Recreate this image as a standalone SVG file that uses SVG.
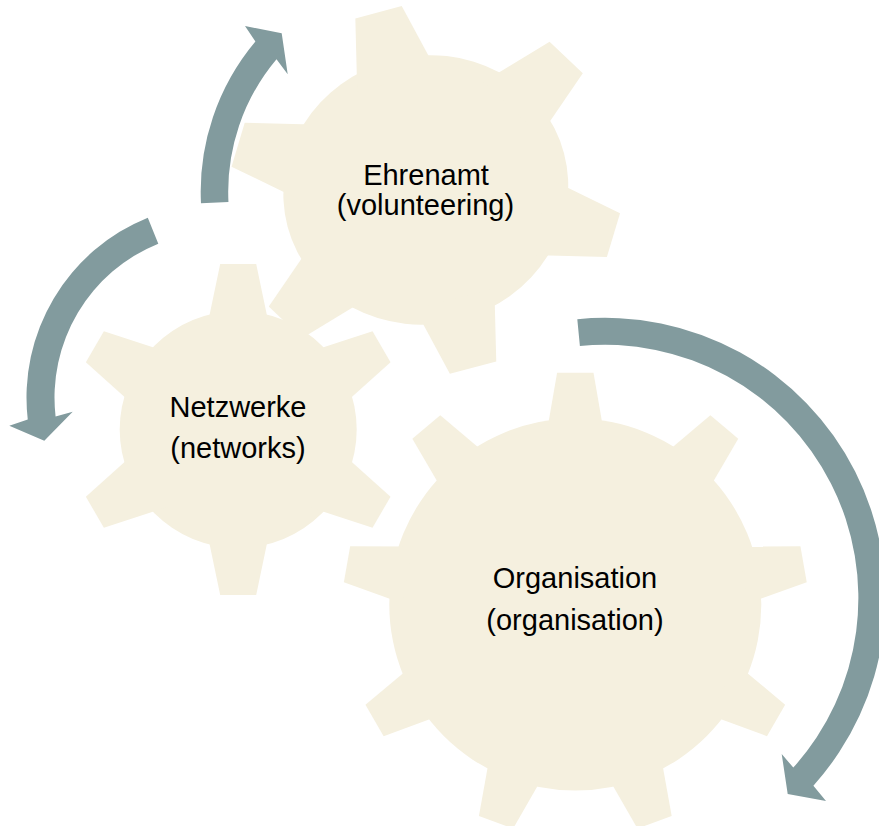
<svg xmlns="http://www.w3.org/2000/svg" width="879" height="826" viewBox="0 0 879 826">
  <style>
    .gear { fill: #F5F0DF; }
    .arrow { fill: #829B9E; }
    .label { font-family: "Liberation Sans", Arial, sans-serif; font-size: 29px; fill: #000000; text-anchor: middle; }
  </style>
  <defs>
    <polygon id="toothBig" points="-18.2,-231.8 18.2,-231.8 28.9,-170 -28.9,-170"/>
    <polygon id="toothEhr" points="-24,-196 24,-196 41,-120 -41,-120"/>
    <polygon id="toothNet" points="-18,-165.5 18,-165.5 31.7,-100 -31.7,-100"/>
  </defs>
  <rect width="879" height="826" fill="#FFFFFF"/>

  <g id="gear-organisation" class="gear" transform="translate(575.3,604.5)">
    <circle r="186"/>
    <use href="#toothBig"/>
    <use href="#toothBig" transform="rotate(40)"/>
    <use href="#toothBig" transform="rotate(80)"/>
    <use href="#toothBig" transform="rotate(120)"/>
    <use href="#toothBig" transform="rotate(160)"/>
    <use href="#toothBig" transform="rotate(200)"/>
    <use href="#toothBig" transform="rotate(240)"/>
    <use href="#toothBig" transform="rotate(280)"/>
    <use href="#toothBig" transform="rotate(320)"/>
  </g>

  <g id="gear-ehrenamt" class="gear" transform="translate(425.8,189.9) rotate(-14.9) scale(1,0.938)">
    <circle r="143"/>
    <use href="#toothEhr"/>
    <use href="#toothEhr" transform="rotate(60)"/>
    <use href="#toothEhr" transform="rotate(120)"/>
    <use href="#toothEhr" transform="rotate(180)"/>
    <use href="#toothEhr" transform="rotate(240)"/>
    <use href="#toothEhr" transform="rotate(300)"/>
  </g>

  <g id="gear-netzwerke" class="gear" transform="translate(238.2,429.5)">
    <circle r="118.5"/>
    <use href="#toothNet"/>
    <use href="#toothNet" transform="rotate(60)"/>
    <use href="#toothNet" transform="rotate(120)"/>
    <use href="#toothNet" transform="rotate(180)"/>
    <use href="#toothNet" transform="rotate(240)"/>
    <use href="#toothNet" transform="rotate(300)"/>
  </g>

  <g id="connectors" class="arrow">
    <path id="arrow-ehrenamt" d="M 200.98,203.2 A 233.8 233.8 0 0 1 255.4,41.5 L 245,26 L 281.7,33.3 L 287.7,74.3 L 276.5,59.2 A 206.3 206.3 0 0 0 228.45,201.9 Z"/>
    <path id="arrow-netzwerke" d="M 147.8,217.7 A 194 194 0 0 0 27.75,419.56 L 9.3,425.7 L 44.3,440.7 L 72.7,411.7 L 55.57,416.4 A 166 166 0 0 1 158.3,243.7 Z"/>
    <path id="arrow-organisation" d="M 577.3,319.2 A 280.3 280.3 0 0 1 813.4,785.65 L 826,801 L 787.7,794 L 781.7,754 L 793.3,767.6 A 253.3 253.3 0 0 0 579.9,346.05 Z"/>
  </g>

  <g id="label-ehrenamt">
    <text class="label" x="426" y="185">Ehrenamt</text>
    <text class="label" x="425.5" y="215">(volunteering)</text>
  </g>
  <g id="label-netzwerke">
    <text class="label" x="238" y="417">Netzwerke</text>
    <text class="label" x="238" y="458">(networks)</text>
  </g>
  <g id="label-organisation">
    <text class="label" x="575" y="588">Organisation</text>
    <text class="label" x="575" y="630">(organisation)</text>
  </g>
</svg>
